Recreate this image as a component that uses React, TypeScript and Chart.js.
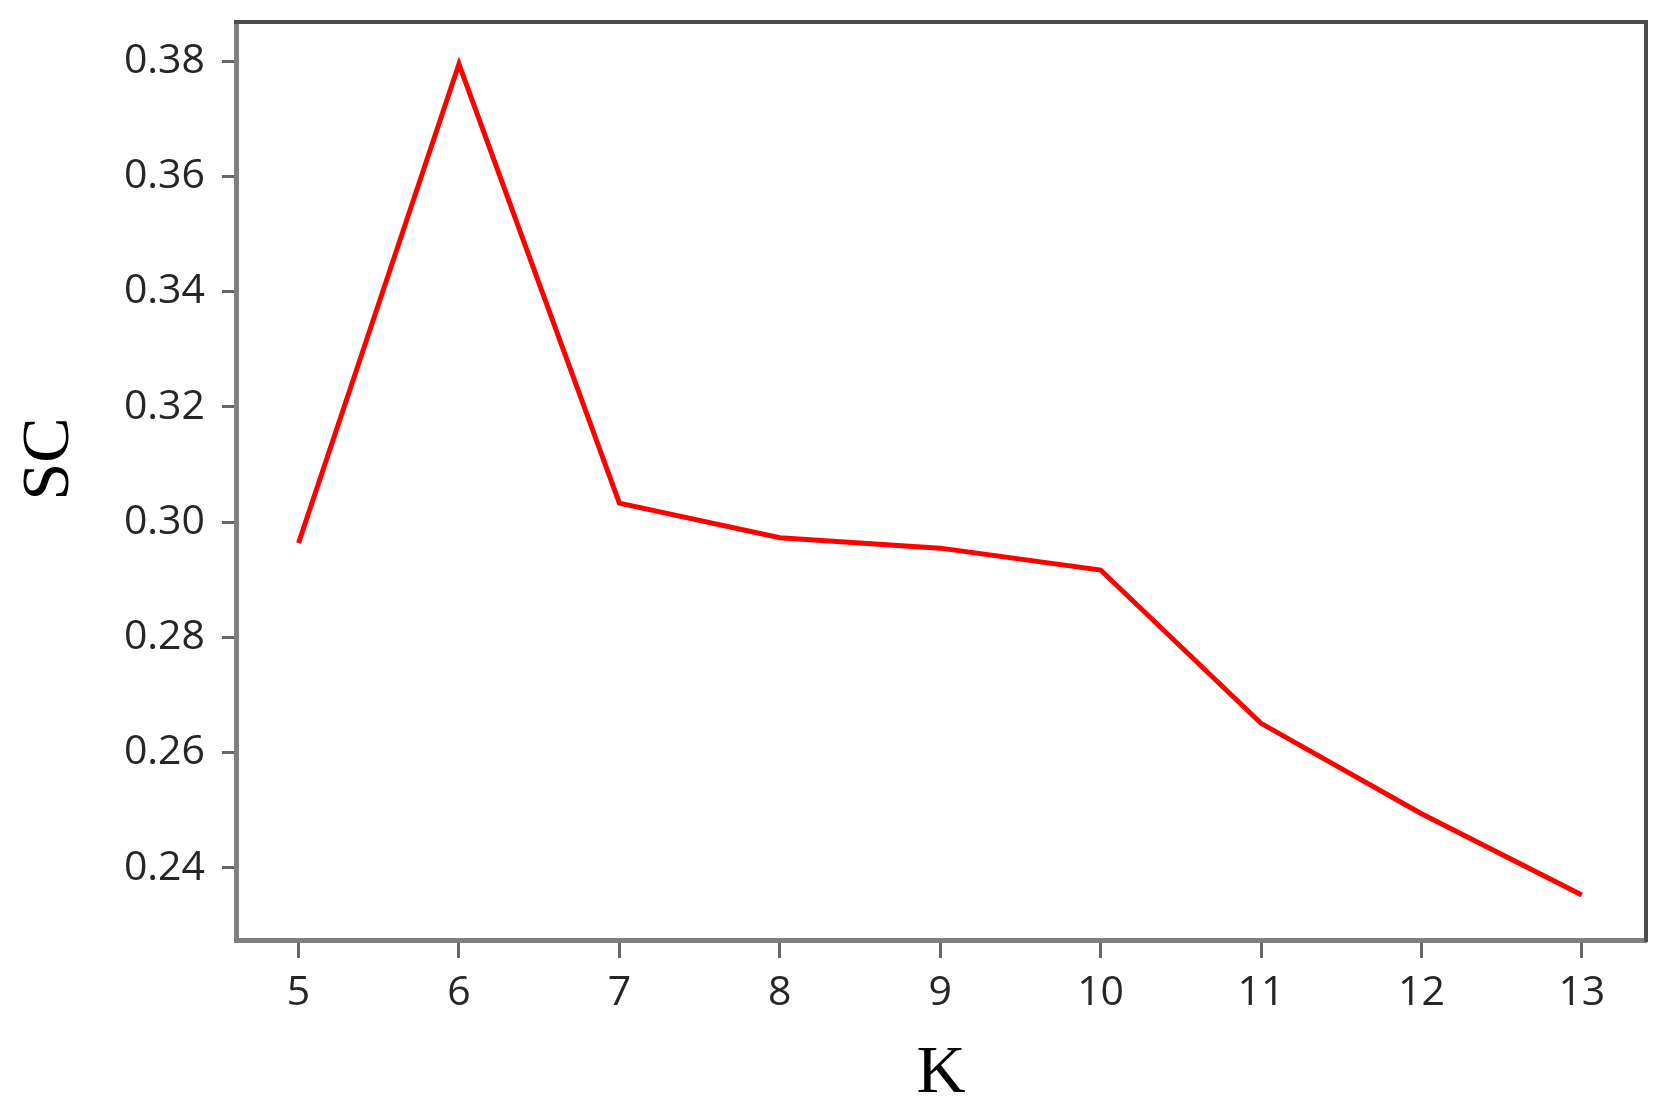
import { useEffect, useRef } from "react";
import { Chart, registerables } from "chart.js";

Chart.register(...registerables);

const kValues = [5, 6, 7, 8, 9, 10, 11, 12, 13];
const scValues = [0.2964, 0.3795, 0.3033, 0.2973, 0.2955, 0.2917, 0.2651, 0.2494, 0.2353];
const yTickValues = [0.24, 0.26, 0.28, 0.3, 0.32, 0.34, 0.36, 0.38];
const xTickValues = [5, 6, 7, 8, 9, 10, 11, 12, 13];
const xAxisTitle = "K";
const yAxisTitle = "SC";

const framePlugin = {
  id: "frameAndTitle",
  afterDraw(chart: any) {
    const { ctx, chartArea } = chart;
    ctx.save();
    ctx.strokeStyle = "#4d4d4d";
    ctx.lineWidth = 4;
    ctx.beginPath();
    ctx.moveTo(chartArea.left - 2, chartArea.top);
    ctx.lineTo(chartArea.right, chartArea.top);
    ctx.lineTo(chartArea.right, chartArea.bottom + 2);
    ctx.stroke();
    ctx.restore();

    ctx.save();
    ctx.translate(50, (chartArea.top + chartArea.bottom) / 2 - 22);
    ctx.rotate(-Math.PI / 2);
    ctx.font = '68px "Liberation Serif"';
    ctx.textAlign = "center";
    ctx.textBaseline = "middle";
    ctx.fillStyle = "#000";
    ctx.fillText(yAxisTitle, 0, 0);
    ctx.restore();
  },
};

export default function App() {
  const ref = useRef<HTMLCanvasElement | null>(null);

  useEffect(() => {
    if (!ref.current) return;
    const chart = new Chart(ref.current, {
      type: "line",
      data: {
        datasets: [
          {
            data: kValues.map((k, i) => ({ x: k, y: scValues[i] })),
            borderColor: "#ff0000",
            borderWidth: 5,
            pointRadius: 0,
            tension: 0,
            fill: false,
          },
        ],
      },
      options: {
        responsive: false,
        animation: false,
        layout: { padding: { left: 0, top: 22, right: 29, bottom: 0 } },
        plugins: { legend: { display: false }, tooltip: { enabled: false } },
        scales: {
          x: {
            type: "linear",
            min: 4.61,
            max: 13.4,
            afterFit: (scale: any) => {
              scale.height = 180;
              scale.paddingLeft = 0;
              scale.paddingRight = 0;
            },
            afterBuildTicks: (scale: any) => {
              scale.ticks = xTickValues.map((v) => ({ value: v }));
            },
            border: { display: true, color: "#7f7f7f", width: 5 },
            grid: {
              display: true,
              drawOnChartArea: false,
              drawTicks: true,
              tickLength: 18,
              tickWidth: 3,
              tickColor: "#666666",
            },
            ticks: {
              padding: 11,
              color: "#262626",
              font: { family: '"Open Sans"', size: 41 },
              callback: (v: any) => String(v),
            },
            title: {
              display: true,
              text: xAxisTitle,
              color: "#000",
              font: { family: '"Liberation Serif"', size: 68, lineHeight: 1 },
              padding: { top: 0, bottom: 12 },
            },
          },
          y: {
            type: "linear",
            min: 0.2275,
            max: 0.3868,
            afterFit: (scale: any) => {
              scale.width = 236;
              scale.paddingTop = 0;
              scale.paddingBottom = 0;
            },
            afterBuildTicks: (scale: any) => {
              scale.ticks = yTickValues.map((v) => ({ value: v }));
            },
            border: { display: true, color: "#7f7f7f", width: 5 },
            grid: {
              display: true,
              drawOnChartArea: false,
              drawTicks: true,
              tickLength: 14,
              tickWidth: 3,
              tickColor: "#666666",
            },
            ticks: {
              padding: 17,
              color: "#262626",
              font: { family: '"Open Sans"', size: 41 },
              callback: (v: any) => Number(v).toFixed(2),
            },
          },
        },
      },
      plugins: [framePlugin],
    });
    return () => chart.destroy();
  }, []);

  return (
    <canvas
      ref={ref}
      width={1675}
      height={1120}
      style={{ position: "fixed", left: 0, top: 0, width: 1675, height: 1120, display: "block", background: "#fff" }}
    />
  );
}
